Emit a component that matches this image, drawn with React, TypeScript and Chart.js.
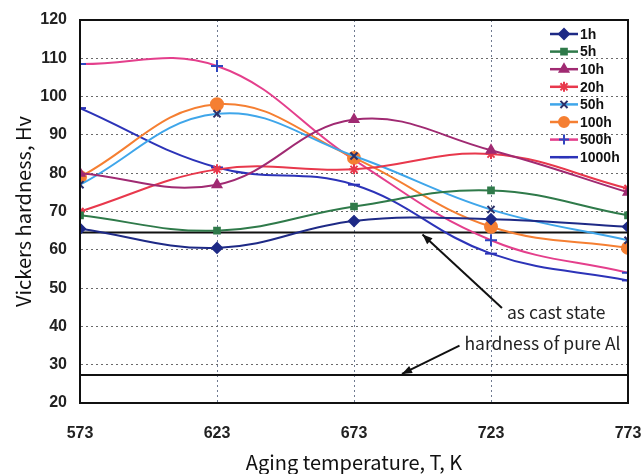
import React, { useEffect, useRef } from 'react';
import { Chart, registerables } from 'chart.js';
import { drawPoint } from 'chart.js/helpers';

Chart.register(...registerables);

const temperatures = [573, 623, 673, 723, 773];
const hardness1h = [65.5, 60.5, 67.5, 68, 66];
const hardness5h = [69, 65, 71.3, 75.5, 69];
const hardness10h = [80, 77, 94, 86, 75];
const hardness20h = [70, 81, 81, 85, 76];
const hardness50h = [77, 95.5, 84.5, 70.5, 62.5];
const hardness100h = [79, 98, 84, 66, 60.5];
const hardness500h = [108.5, 108, 83.5, 62.5, 54];
const hardness1000h = [97, 81.5, 77, 59, 52];
const seriesLabels = ['1h', '5h', '10h', '20h', '50h', '100h', '500h', '1000h'];
const asCastHardness = 64.5;
const pureAlHardness = 27.3;
const xTickValues = [573, 623, 673, 723, 773];
const yMin = 20;
const yMax = 120;
const yStep = 10;
const asCastLabel = 'as cast state';
const pureAlLabel = 'hardness of pure Al';
// annotation anchors in data units
const asCastArrow = { from: [727, 44.8], to: [698, 64] };
const pureAlArrow = { from: [711.5, 35], to: [690.5, 27.6] };

const seriesData = [hardness1h, hardness5h, hardness10h, hardness20h, hardness50h, hardness100h, hardness500h, hardness1000h];
const lineColors = ['#1e2a86', '#2f7a4a', '#a02a72', '#e8384c', '#3fa6ea', '#f57f32', '#e43f8c', '#2c33b8'];
const markerColors = ['#1e2a86', '#2f7a4a', '#a02a72', '#e8384c', '#2a2f6a', '#f57f32', '#2f46c0', '#2c33b8'];
const markerStyles = ['rectRot', 'rect', 'triangle', 'star', 'crossRot', 'circle', 'cross', 'line'];
const markerRadii = [5, 4, 5, 5, 5, 6, 6, 6];

const tickFont = { family: '"Liberation Sans", Arial, sans-serif', size: 16, weight: 'bold' as const };
const titleFamily = '"Noto Sans CJK JP", "Noto Sans", sans-serif';

const framePlugin = {
  id: 'frame',
  afterDatasetsDraw(chart: any) {
    const { ctx, chartArea: a } = chart;
    ctx.save();
    ctx.strokeStyle = '#111';
    ctx.lineWidth = 2;
    ctx.setLineDash([]);
    ctx.strokeRect(a.left, a.top, a.right - a.left, a.bottom - a.top);
    ctx.restore();
  },
};

function arrow(ctx: CanvasRenderingContext2D, x1: number, y1: number, x2: number, y2: number) {
  ctx.beginPath();
  ctx.moveTo(x1, y1);
  ctx.lineTo(x2, y2);
  ctx.stroke();
  const ang = Math.atan2(y2 - y1, x2 - x1);
  const len = 10;
  const w = 4;
  ctx.beginPath();
  ctx.moveTo(x2, y2);
  ctx.lineTo(x2 - len * Math.cos(ang) + w * Math.sin(ang), y2 - len * Math.sin(ang) - w * Math.cos(ang));
  ctx.lineTo(x2 - len * Math.cos(ang) - w * Math.sin(ang), y2 - len * Math.sin(ang) + w * Math.cos(ang));
  ctx.closePath();
  ctx.fill();
}

const annotationPlugin = {
  id: 'annotations',
  afterDraw(chart: any) {
    const { ctx } = chart;
    const xs = chart.scales.x;
    const ys = chart.scales.y;
    ctx.save();
    ctx.setLineDash([]);
    ctx.strokeStyle = '#111';
    ctx.fillStyle = '#111';
    ctx.lineWidth = 2;
    const a1 = asCastArrow;
    const p1 = [xs.getPixelForValue(a1.from[0]), ys.getPixelForValue(a1.from[1])];
    const q1 = [xs.getPixelForValue(a1.to[0]), ys.getPixelForValue(a1.to[1])];
    arrow(ctx, p1[0], p1[1], q1[0], q1[1]);
    const a2 = pureAlArrow;
    const p2 = [xs.getPixelForValue(a2.from[0]), ys.getPixelForValue(a2.from[1])];
    const q2 = [xs.getPixelForValue(a2.to[0]), ys.getPixelForValue(a2.to[1])];
    arrow(ctx, p2[0], p2[1], q2[0], q2[1]);
    ctx.font = '17.5px ' + titleFamily;
    ctx.textBaseline = 'middle';
    ctx.textAlign = 'left';
    ctx.fillStyle = '#222';
    ctx.fillText(asCastLabel, p1[0] + 5, p1[1] + 4);
    ctx.fillText(pureAlLabel, p2[0] + 5, p2[1] - 2);

    // legend
    const lx = chart.chartArea.right - 78;
    let ly = chart.chartArea.top + 14;
    ctx.font = 'bold 14px "Liberation Sans", Arial, sans-serif';
    for (let i = 0; i < seriesLabels.length; i++) {
      ctx.strokeStyle = lineColors[i];
      ctx.lineWidth = 2.5;
      ctx.beginPath();
      ctx.moveTo(lx, ly);
      ctx.lineTo(lx + 28, ly);
      ctx.stroke();
      ctx.fillStyle = markerColors[i];
      ctx.strokeStyle = markerColors[i];
      ctx.lineWidth = 2;
      drawPoint(ctx, { pointStyle: markerStyles[i], radius: Math.min(markerRadii[i], 5), rotation: 0, borderWidth: 2 } as any, lx + 14, ly);
      ctx.fillStyle = '#111';
      ctx.fillText(seriesLabels[i], lx + 30, ly + 1);
      ly += 17.6;
    }
    ctx.restore();
  },
};

export default function App() {
  const ref = useRef<HTMLCanvasElement>(null);
  useEffect(() => {
    document.body.style.margin = '0';
    const datasets: any[] = seriesData.map((vals, i) => ({
      label: seriesLabels[i],
      data: temperatures.map((t, j) => ({ x: t, y: vals[j] })),
      borderColor: lineColors[i],
      backgroundColor: markerColors[i],
      pointBorderColor: markerColors[i],
      pointBackgroundColor: markerColors[i],
      pointStyle: markerStyles[i],
      pointRadius: markerRadii[i],
      pointBorderWidth: 2,
      borderWidth: 2,
      tension: 0.4,
      cubicInterpolationMode: 'default',
    }));
    datasets.push({
      label: 'as cast',
      data: [{ x: temperatures[0], y: asCastHardness }, { x: temperatures[temperatures.length - 1], y: asCastHardness }],
      borderColor: '#111',
      borderWidth: 2,
      pointRadius: 0,
      tension: 0,
    });
    datasets.push({
      label: 'pure Al',
      data: [{ x: temperatures[0], y: pureAlHardness }, { x: temperatures[temperatures.length - 1], y: pureAlHardness }],
      borderColor: '#111',
      borderWidth: 2,
      pointRadius: 0,
      tension: 0,
    });
    const chart = new Chart(ref.current!, {
      type: 'line',
      data: { datasets },
      options: {
        animation: false,
        responsive: false,
        layout: { padding: { top: 20, right: 16, left: 0, bottom: 0 } },
        plugins: { legend: { display: false }, tooltip: { enabled: false } },
        scales: {
          x: {
            type: 'linear',
            min: xTickValues[0],
            max: xTickValues[xTickValues.length - 1],
            afterBuildTicks: (s: any) => { s.ticks = xTickValues.map((v) => ({ value: v })); },
            afterFit: (s: any) => { s.height = 71; },
            ticks: { font: tickFont, color: '#222', padding: 0, maxRotation: 0, autoSkip: false },
            grid: {
              drawTicks: true,
              tickLength: 21,
              tickColor: 'rgba(0,0,0,0)',
              color: (c: any) => (c.index === 0 || c.index === xTickValues.length - 1 ? 'rgba(0,0,0,0)' : '#6f7a90'),
              lineWidth: 1,
            },
            border: { display: true, color: '#111', width: 2, dash: [2, 3] },
            title: {
              display: true,
              text: 'Aging temperature, T, K',
              font: { family: titleFamily, size: 20 },
              color: '#111',
              padding: { top: 0, bottom: 0 },
            },
          },
          y: {
            type: 'linear',
            min: yMin,
            max: yMax,
            ticks: { stepSize: yStep, font: tickFont, color: '#222', padding: 0 },
            afterFit: (s: any) => { s.width = 80; },
            grid: {
              drawTicks: true,
              tickLength: 13,
              tickColor: 'rgba(0,0,0,0)',
              color: (c: any) => (c.tick && (c.tick.value === yMin || c.tick.value === yMax) ? 'rgba(0,0,0,0)' : '#6a6a6a'),
              lineWidth: 1,
            },
            border: { display: true, color: '#111', width: 2, dash: [2, 3] },
            title: {
              display: true,
              text: 'Vickers hardness, Hv',
              font: { family: titleFamily, size: 20 },
              color: '#111',
              padding: { top: 11, bottom: 0 },
            },
          },
        },
      },
      plugins: [framePlugin, annotationPlugin],
    } as any);
    return () => chart.destroy();
  }, []);
  return <canvas ref={ref} width={644} height={474} style={{ display: 'block' }} />;
}
